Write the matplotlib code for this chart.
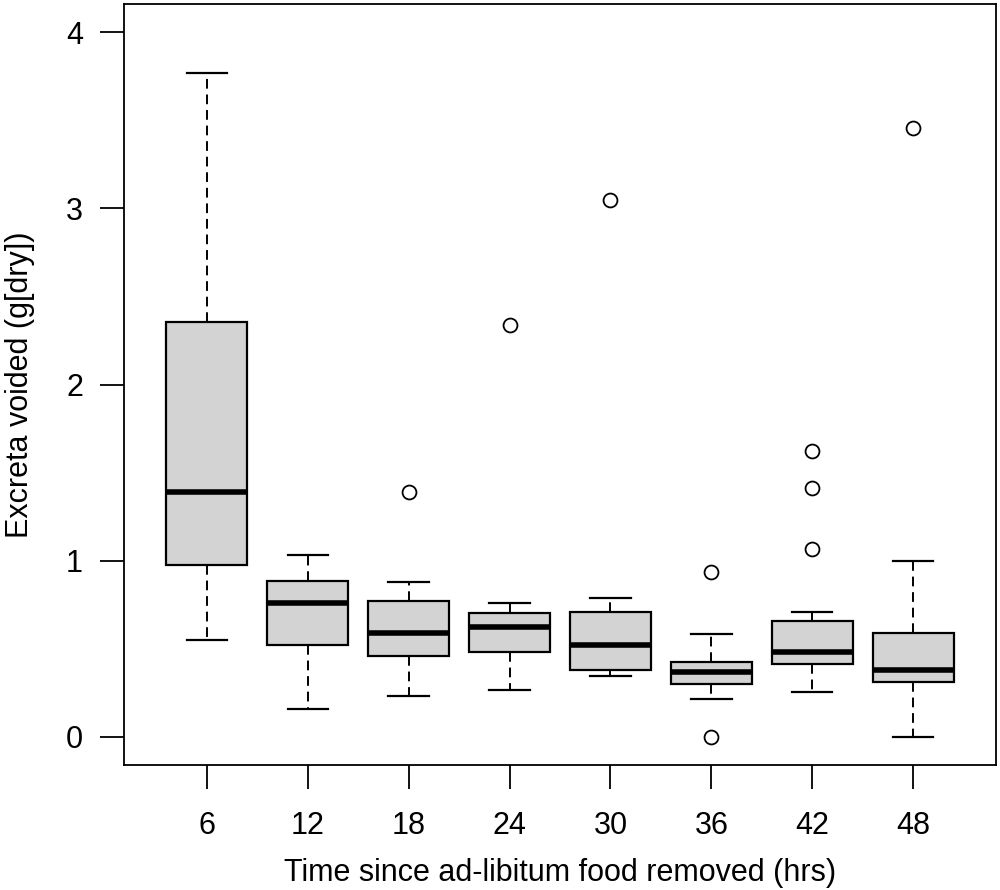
import matplotlib
matplotlib.use("Agg")
import matplotlib.pyplot as plt

plt.rcParams['font.family'] = ['Liberation Sans', 'DejaVu Sans']

labels = ["6", "12", "18", "24", "30", "36", "42", "48"]
whislo = [0.547, 0.157, 0.231, 0.268, 0.346, 0.214, 0.257, 0.0]
q1 = [0.976, 0.520, 0.461, 0.480, 0.380, 0.299, 0.412, 0.314]
med = [1.390, 0.759, 0.592, 0.622, 0.522, 0.367, 0.484, 0.380]
q3 = [2.355, 0.885, 0.772, 0.705, 0.709, 0.427, 0.660, 0.592]
whishi = [3.767, 1.033, 0.881, 0.762, 0.789, 0.584, 0.707, 0.997]
fliers = [[], [], [1.388], [2.338], [3.047], [0.934, 0.0], [1.624, 1.410, 1.065], [3.455]]

stats = []
for i in range(len(labels)):
    stats.append(dict(label=labels[i], whislo=whislo[i], q1=q1[i], med=med[i],
                      q3=q3[i], whishi=whishi[i], fliers=fliers[i]))

fig = plt.figure(figsize=(10, 8.9), dpi=100)
ax = fig.add_axes([0.124, 0.1404, 0.872, 0.8551])

ax.bxp(stats, positions=range(1, 9), widths=0.8, patch_artist=True,
       boxprops=dict(facecolor='#D3D3D3', edgecolor='black', linewidth=1.6),
       medianprops=dict(color='black', linewidth=4, solid_capstyle='butt'),
       whiskerprops=dict(color='black', linewidth=1.4, linestyle=(0, (5, 3))),
       capprops=dict(color='black', linewidth=1.6),
       capwidths=0.4,
       flierprops=dict(marker='o', markerfacecolor='none', markeredgecolor='black',
                       markersize=10, markeredgewidth=1.3))

ax.set_xlim(0.18, 8.82)
ax.set_ylim(-0.16, 4.16)
ax.set_yticks([0, 1, 2, 3, 4])
ax.set_xticks(range(1, 9))
ax.set_xticklabels(labels)
for s in ax.spines.values():
    s.set_linewidth(1.3)
ax.tick_params(axis='both', length=17, width=1.3, labelsize=22, color='black')
ax.tick_params(axis='x', pad=16)
ax.tick_params(axis='y', pad=12.5)
ax.set_xlabel("Time since ad-libitum food removed (hrs)", fontsize=22)
ax.set_ylabel("Excreta voided (g[dry])", fontsize=22)
ax.xaxis.set_label_coords(0.5, -0.1225)
ax.yaxis.set_label_coords(-0.1024, 0.5)

fig.savefig("out.png", dpi=100)
